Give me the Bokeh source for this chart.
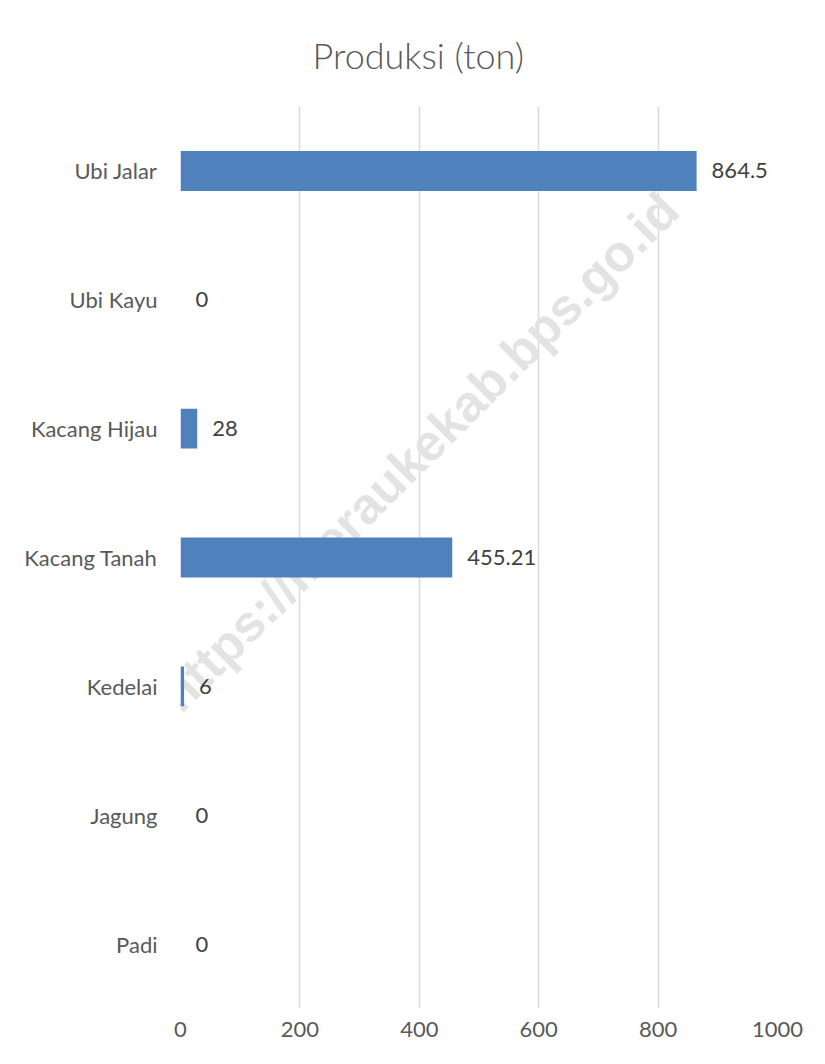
import math
from bokeh.plotting import figure
from bokeh.models import Range1d, FixedTicker, Label, ColumnDataSource
from bokeh.core.properties import value
from bokeh.embed import file_html
from bokeh.resources import INLINE

# ---- data (bottom to top) ----
categories = ["Padi", "Jagung", "Kedelai", "Kacang Tanah", "Kacang Hijau", "Ubi Kayu", "Ubi Jalar"]
values = [0, 0, 6, 455.21, 28, 0, 864.5]
value_labels = ["0", "0", "6", "455.21", "28", "0", "864.5"]
x_ticks = [0, 200, 400, 600, 800, 1000]
title_text = "Produksi (ton)"
watermark_text = "https://meraukekab.bps.go.id"

FONT = "Lato"
src = ColumnDataSource(dict(
    y=list(range(len(categories))),
    v=values,
    lbl=value_labels,
))

p = figure(width=825, height=1064,
           x_range=Range1d(0, 1000), y_range=Range1d(-0.5, len(categories) - 0.5),
           output_backend="svg", toolbar_location=None,
           min_border_left=180, min_border_right=48,
           min_border_top=105, min_border_bottom=56)
p.outline_line_color = None
p.background_fill_color = "white"
p.border_fill_color = "white"

# title
p.title.text = title_text
p.title.align = "left"
p.title.offset = 132
p.title.text_font = "Lato Light"
p.title.text_font_style = "normal"
p.title.text_font_size = "36px"
p.title.text_color = "#595959"
p.title.standoff = 60

# watermark (under bars)
wm = Label(x=400, y=3.82, text=watermark_text, angle=math.pi / 4,
           text_align="center", text_baseline="middle",
           text_font="Liberation Sans", text_font_style="bold", text_font_size="51px",
           text_color="#e3e3e3", level="underlay")
p.add_layout(wm)

p.hbar(y="y", left=0, right="v", height=0.31, source=src,
       fill_color="#4f81bd", line_color=None)

p.text(x="v", y="y", text="lbl", source=src, x_offset=15,
       text_align="left", text_baseline="middle",
       text_font=value(FONT), text_font_size="22px", text_color="#404040")

# grids
p.ygrid.grid_line_color = None
p.xgrid.grid_line_color = "#d9d9d9"
p.xgrid.grid_line_width = 1.5
p.xgrid.ticker = FixedTicker(ticks=x_ticks)

# axes
xa = p.xaxis[0]
xa.ticker = FixedTicker(ticks=x_ticks)
xa.axis_line_color = None
xa.major_tick_line_color = None
xa.minor_tick_line_color = None
xa.major_tick_out = 0
xa.major_tick_in = 0
xa.major_label_standoff = 13
xa.major_label_text_font = FONT
xa.major_label_text_font_size = "22px"
xa.major_label_text_color = "#595959"

ya = p.yaxis[0]
ya.ticker = FixedTicker(ticks=list(range(len(categories))))
ya.major_label_overrides = {i: c for i, c in enumerate(categories)}
ya.axis_line_color = None
ya.major_tick_line_color = None
ya.minor_tick_line_color = None
ya.major_tick_out = 0
ya.major_tick_in = 0
ya.major_label_standoff = 23
ya.major_label_text_font = FONT
ya.major_label_text_font_size = "22px"
ya.major_label_text_color = "#595959"

open("out.html", "w").write(file_html(p, INLINE))
